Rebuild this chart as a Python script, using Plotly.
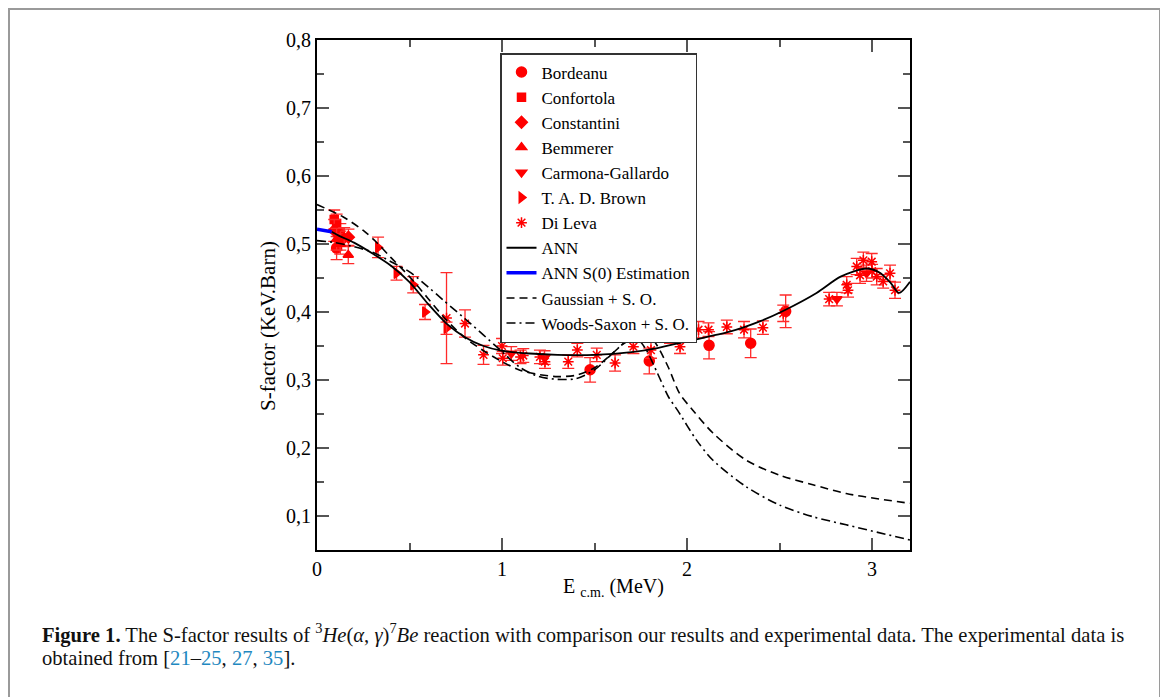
import plotly.graph_objects as go

# ---------------- data ----------------
bord_E = [0.106, 1.476, 1.796, 2.119, 2.344, 2.533]
bord_S = [0.494, 0.315, 0.328, 0.351, 0.354, 0.401]
bord_err = [0.017, 0.018, 0.019, 0.020, 0.021, 0.024]

conf_E = [0.093, 0.106, 0.126]
conf_S = [0.536, 0.530, 0.516]
conf_err = [0.014, 0.014, 0.014]

cons_E = [0.093, 0.126, 0.170]
cons_S = [0.520, 0.505, 0.510]
cons_err = [0.016, 0.014, 0.012]

bemm_E = [0.106, 0.126, 0.147, 0.169]
bemm_S = [0.507, 0.500, 0.510, 0.484]
bemm_err = [0.016, 0.015, 0.014, 0.013]

carm_E = [1.05, 1.23, 2.01, 2.81, 2.97]
carm_S = [0.339, 0.333, 0.371, 0.419, 0.457]
carm_err = [0.010, 0.010, 0.012, 0.010, 0.012]

brown_E = [0.33, 0.43, 0.52, 0.584, 0.70]
brown_S = [0.495, 0.457, 0.440, 0.400, 0.376]
brown_err = [0.015, 0.010, 0.012, 0.011, 0.009]

dileva_E = [0.70, 0.80, 0.90, 1.00, 1.004, 1.10, 1.115, 1.205, 1.232, 1.358,
            1.407, 1.512, 1.611, 1.71, 1.805, 1.908, 1.962, 2.013, 2.062, 2.116,
            2.215, 2.308, 2.41, 2.52, 2.768, 2.863, 2.87, 2.917, 2.935, 2.953,
            2.998, 3.00, 3.025, 3.06, 3.097, 3.124]
dileva_S = [0.391, 0.383, 0.337, 0.350, 0.332, 0.334, 0.336, 0.334, 0.327, 0.327,
            0.344, 0.337, 0.325, 0.349, 0.344, 0.366, 0.349, 0.386, 0.374, 0.374,
            0.378, 0.374, 0.377, 0.398, 0.419, 0.440, 0.432, 0.467, 0.454, 0.476,
            0.474, 0.460, 0.452, 0.445, 0.457, 0.432]
dileva_err = [0.067, 0.020, 0.014, 0.011, 0.010, 0.010, 0.010, 0.010, 0.010, 0.010,
              0.010, 0.010, 0.012, 0.010, 0.012, 0.012, 0.010, 0.013, 0.012, 0.010,
              0.010, 0.012, 0.010, 0.012, 0.010, 0.012, 0.010, 0.012, 0.012, 0.012,
              0.012, 0.010, 0.012, 0.010, 0.012, 0.012]

ann_E = [0.079, 0.12, 0.2, 0.3, 0.4, 0.5, 0.6, 0.7, 0.8, 0.9, 1.0, 1.15, 1.3, 1.5,
         1.7, 1.84, 2.0, 2.23, 2.4, 2.53, 2.7, 2.83, 2.97, 3.04, 3.1, 3.146, 3.205]
ann_S = [0.518, 0.512, 0.502, 0.486, 0.468, 0.444, 0.412, 0.383, 0.363, 0.350,
         0.343, 0.339, 0.337, 0.337, 0.341, 0.347, 0.357, 0.371, 0.387, 0.403,
         0.428, 0.452, 0.464, 0.458, 0.443, 0.428, 0.4446]

s0_E = [0.0, 0.079]
s0_S = [0.5216, 0.518]

gauss_E = [0.0, 0.14, 0.25, 0.32, 0.4, 0.5, 0.6, 0.7, 0.8, 0.9, 1.0, 1.1, 1.2, 1.3,
           1.4, 1.5, 1.6, 1.7, 1.75, 1.8, 1.84, 1.9, 1.96, 2.03, 2.14, 2.32, 2.5,
           2.68, 2.86, 3.205]
gauss_S = [0.558, 0.540, 0.520, 0.503, 0.480, 0.452, 0.420, 0.388, 0.362, 0.343,
           0.327, 0.314, 0.308, 0.305, 0.307, 0.318, 0.340, 0.364, 0.371, 0.364,
           0.350, 0.318, 0.280, 0.256, 0.222, 0.182, 0.160, 0.146, 0.133, 0.1186]

ws_E = [0.0, 0.1, 0.2, 0.3, 0.4, 0.5, 0.6, 0.68, 0.83, 0.97, 1.1, 1.2, 1.3, 1.4,
        1.5, 1.6, 1.65, 1.7, 1.74, 1.78, 1.84, 1.9, 1.95, 2.05, 2.14, 2.32, 2.5,
        2.68, 2.86, 3.205]
ws_S = [0.505, 0.502, 0.496, 0.488, 0.474, 0.459, 0.437, 0.418, 0.383, 0.349,
        0.318, 0.305, 0.301, 0.302, 0.315, 0.340, 0.352, 0.360, 0.358, 0.344,
        0.310, 0.275, 0.255, 0.212, 0.182, 0.143, 0.116, 0.099, 0.087, 0.0647]

x_ticks = [0, 1, 2, 3]
y_ticks = [0.1, 0.2, 0.3, 0.4, 0.5, 0.6, 0.7, 0.8]
y_ticktext = ["0,1", "0,2", "0,3", "0,4", "0,5", "0,6", "0,7", "0,8"]

RED = "#ff0000"
FONT = "Liberation Serif"

# figure geometry (pixels of the figure itself)
W, H = 1160, 689
L, T, PW, PH = 309, 32, 593, 510
R, B = W - L - PW, H - T - PH

def px_x(x):
    return (x - L) / PW

def px_y(y):
    return (T + PH - y) / PH

fig = go.Figure()

def exp_trace(name, E, S, err, symbol, size=9):
    fig.add_trace(go.Scatter(
        x=E, y=S, mode="markers", name=name,
        marker=dict(symbol=symbol, color=RED, size=size,
                    line=dict(color=RED, width=1.5)),
        error_y=dict(type="data", array=err, visible=True, color="#ff2a2a",
                     thickness=1.3, width=6),
    ))

exp_trace("Bordeanu", bord_E, bord_S, bord_err, "circle", 10)
exp_trace("Confortola", conf_E, conf_S, conf_err, "square", 8)
exp_trace("Constantini", cons_E, cons_S, cons_err, "diamond", 9)
exp_trace("Bemmerer", bemm_E, bemm_S, bemm_err, "triangle-up", 9)
exp_trace("Carmona-Gallardo", carm_E, carm_S, carm_err, "triangle-down", 9)
exp_trace("T. A. D. Brown", brown_E, brown_S, brown_err, "triangle-right", 9)
exp_trace("Di Leva", dileva_E, dileva_S, dileva_err, "asterisk-open", 9)

fig.add_trace(go.Scatter(x=ann_E, y=ann_S, mode="lines", name="ANN",
                         line=dict(color="black", width=1.8, shape="spline",
                                   smoothing=0.8)))
fig.add_trace(go.Scatter(x=s0_E, y=s0_S, mode="lines", name="ANN S(0) Estimation",
                         line=dict(color="#0000ff", width=3.5)))
fig.add_trace(go.Scatter(x=gauss_E, y=gauss_S, mode="lines", name="Gaussian + S. O.",
                         line=dict(color="black", width=1.6, dash="8px,5px",
                                   shape="spline", smoothing=0.8)))
fig.add_trace(go.Scatter(x=ws_E, y=ws_S, mode="lines", name="Woods-Saxon + S. O.",
                         line=dict(color="black", width=1.6, dash="9px,4px,2px,4px",
                                   shape="spline", smoothing=0.8)))

axis_common = dict(
    showline=True, linecolor="black", linewidth=2, mirror="ticks",
    ticks="inside", ticklen=12, tickwidth=1.5, tickcolor="#555555",
    showgrid=False, zeroline=False,
    tickfont=dict(family=FONT, size=20, color="black"),
)

fig.update_xaxes(range=[0, 3.205], tickvals=x_ticks, ticktext=[str(v) for v in x_ticks],
                 minor=dict(ticks="inside", ticklen=7, dtick=0.5, tickcolor="#555555",
                            tickwidth=1.5, showgrid=False),
                 title=dict(text="E <sub>c.m.</sub> (MeV)", standoff=0,
                            font=dict(family=FONT, size=20, color="black")),
                 **axis_common)
fig.update_yaxes(range=[0.05, 0.8], tickvals=y_ticks, ticktext=y_ticktext,
                 minor=dict(ticks="inside", ticklen=7, dtick=0.05, tickcolor="#555555",
                            tickwidth=1.5, showgrid=False),
                 **axis_common)

LINK = "#1f88c0"
cap1 = ("<b>Figure 1.</b> The S-factor results of <sup>3</sup><i>He</i>(<i>α</i>, <i>γ</i>)"
        "<sup>7</sup><i>Be</i> reaction with comparison our results and experimental data. "
        "The experimental data is")
cap2 = (f"obtained from [<span style='color:{LINK}'>21</span>–"
        f"<span style='color:{LINK}'>25</span>, <span style='color:{LINK}'>27</span>, "
        f"<span style='color:{LINK}'>35</span>].")

fig.update_layout(
    width=W, height=H,
    margin=dict(l=L, r=R, t=T, b=B, autoexpand=False),
    paper_bgcolor="white", plot_bgcolor="white",
    font=dict(family=FONT, color="black"),
    showlegend=True,
    legend=dict(x=px_x(492), y=px_y(45), xanchor="left", yanchor="top",
                bgcolor="white", bordercolor="#333333", borderwidth=1.5,
                font=dict(family=FONT, size=17, color="black"),
                tracegroupgap=0, itemwidth=30),
    shapes=[dict(type="rect", xref="paper", yref="paper",
                 x0=px_x(1), x1=px_x(1152), y0=px_y(720), y1=px_y(1),
                 line=dict(color="#9a9a9a", width=2), layer="below")],
    annotations=[
        dict(text="S-factor (KeV.Barn)", xref="paper", yref="paper",
             x=px_x(260), y=px_y(318), textangle=-90,
             xanchor="center", yanchor="middle", showarrow=False,
             font=dict(family=FONT, size=21, color="black")),
        dict(text=cap1, xref="paper", yref="paper", x=px_x(32), y=px_y(625),
             xanchor="left", yanchor="middle", align="left", showarrow=False,
             font=dict(family=FONT, size=20.6, color="#111111")),
        dict(text=cap2, xref="paper", yref="paper", x=px_x(32), y=px_y(650),
             xanchor="left", yanchor="middle", align="left", showarrow=False,
             font=dict(family=FONT, size=20.6, color="#111111")),
    ],
)

fig.write_html("out.html")
